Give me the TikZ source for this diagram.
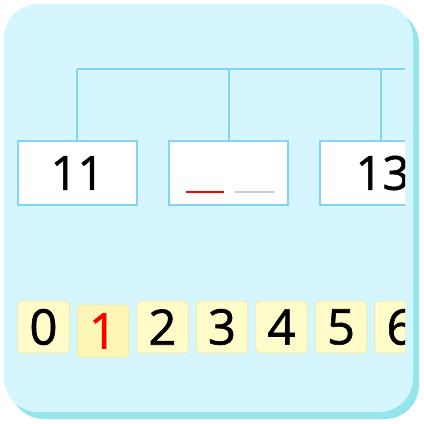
\documentclass[tikz,border=0pt]{standalone}
\usepackage{fontspec}
\setmainfont{Open Sans}[FakeBold=1.2]
\definecolor{panelfill}{HTML}{D5F6FE}
\definecolor{panelshadow}{HTML}{94E6EC}
\definecolor{lineblue}{HTML}{84D4F4}
\definecolor{tilefill}{HTML}{FFFCC9}
\definecolor{tileedge}{HTML}{EFE9A6}
\definecolor{selfill}{HTML}{FEF6B4}
\definecolor{seledge}{HTML}{F3EC98}
\definecolor{blankgray}{HTML}{CCCCCC}
\begin{document}
\begin{tikzpicture}[x=1pt,y=-1pt,
  treeline/.style={draw=lineblue,line width=1.3pt},
  numbox/.style={draw=lineblue,line width=1.3pt,fill=white,minimum width=119pt,minimum height=64pt,inner sep=0pt,font=\fontsize{47}{47}\selectfont},
  tile/.style={draw=tileedge,line width=0.8pt,fill=tilefill,rounded corners=4pt,minimum width=51.5pt,minimum height=52pt,inner sep=0pt,font=\fontsize{49}{49}\selectfont},
  seltile/.style={tile,draw=seledge,fill=selfill},
  blank/.style={line width=2pt}]
\useasboundingbox (0,0) rectangle (424,424);
\fill[white] (0,0) rectangle (424,424);
\fill[panelshadow,rounded corners=34pt] (10,10) rectangle (419,419);
\fill[panelfill,rounded corners=34pt] (4,4) rectangle (413,412);
\begin{scope}
\clip (0,0) rectangle (405,424);
% boxes
\node[numbox] (b1) at (77.5,173) {11};
\node[numbox] (b2) at (228.5,173) {};
\node[numbox] (b3) at (379.5,173) {\hspace*{6pt}13};
% tree
\coordinate (j1) at (77,69);
\coordinate (j2) at (229,69);
\coordinate (j3) at (381,69);
\coordinate (jr) at (424,69);
\draw[treeline] (j1) -- (jr);
\draw[treeline] (j1) -- (j1 |- b1.north);
\draw[treeline] (j2) -- (j2 |- b2.north);
\draw[treeline] (j3) -- (j3 |- b3.north);
% blanks
\coordinate (r1) at (186,192);
\coordinate (r2) at (224,192);
\coordinate (g1) at (235,192);
\coordinate (g2) at (274,192);
\draw[blank,red] (r1) -- (r2);
\draw[blank,blankgray] (g1) -- (g2);
% tiles
\node[tile] (t0) at (43.5,327) {0};
\node[seltile,text=red] (t1) at (103,331) {1};
\node[tile] (t2) at (162.5,327) {2};
\node[tile] (t3) at (222,327) {3};
\node[tile] (t4) at (281.5,327) {4};
\node[tile] (t5) at (341,327) {5};
\node[tile] (t6) at (400.5,327) {6};
\end{scope}
\end{tikzpicture}
\end{document}
